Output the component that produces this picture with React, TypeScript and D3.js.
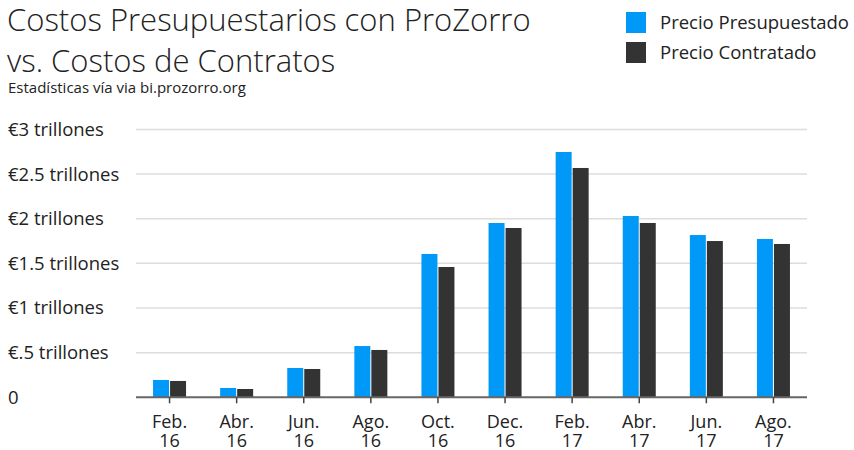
import React from "react";
import * as d3 from "d3";

const categories = ["Feb.|16", "Abr.|16", "Jun.|16", "Ago.|16", "Oct.|16", "Dec.|16", "Feb.|17", "Abr.|17", "Jun.|17", "Ago.|17"];
const presupuestado = [0.194, 0.104, 0.328, 0.574, 1.605, 1.952, 2.747, 2.03, 1.817, 1.773];
const contratado = [0.183, 0.093, 0.317, 0.53, 1.459, 1.896, 2.568, 1.952, 1.75, 1.717];
const yTicks = [0, 0.5, 1, 1.5, 2, 2.5, 3];
const yTickLabels = ["0", "€.5 trillones", "€1 trillones", "€1.5 trillones", "€2 trillones", "€2.5 trillones", "€3 trillones"];
const seriesNames = ["Precio Presupuestado", "Precio Contratado"];
const colors = ["#0099F7", "#333333"];

const W = 854, H = 450;
const FONT = "'Open Sans', sans-serif";

export default function App() {
  const x = d3.scaleBand<string>().domain(categories).range([136, 807]).padding(0);
  const y = d3.scaleLinear().domain([0, 3]).range([397.3, 129.4]);
  const inner = d3.scaleBand<number>().domain([0, 1]).range([x.bandwidth() / 2 - 16.5, x.bandwidth() / 2 + 16.5]).paddingInner(0.06);
  const series = [presupuestado, contratado];
  return (
    <svg width={W} height={H} style={{ position: "absolute", left: 0, top: 0, fontFamily: FONT }}>
      <rect width={W} height={H} fill="#fff" />
      <text x={7} y={31} fontSize={31} fontWeight={300} fill="#222">Costos Presupuestarios con ProZorro</text>
      <text x={7} y={72} fontSize={31} fontWeight={300} fill="#222">vs. Costos de Contratos</text>
      <text x={8} y={93} fontSize={15} fill="#222">Estadísticas vía via bi.prozorro.org</text>
      {seriesNames.map((n, i) => (
        <g key={n}>
          <rect x={626} y={12 + i * 30} width={20} height={21} fill={colors[i]} />
          <text x={660} y={28.5 + i * 30} fontSize={18.5} fill="#222">{n}</text>
        </g>
      ))}
      {yTicks.map((t, i) => (
        <g key={t}>
          {t > 0 && <line x1={136} x2={807} y1={y(t)} y2={y(t)} stroke="#dcdcdc" strokeWidth={1.5} />}
          <text x={8} y={y(t)} dy="0.35em" fontSize={18.5} fill="#222">{yTickLabels[i]}</text>
        </g>
      ))}
      {categories.map((c, ci) => (
        <g key={c} transform={`translate(${x(c)},0)`}>
          {series.map((s, si) => (
            <rect key={si} x={inner(si)} y={y(s[ci])} width={inner.bandwidth()} height={y(0) - y(s[ci])} fill={colors[si]} />
          ))}
        </g>
      ))}
      <line x1={136} x2={807} y1={y(0)} y2={y(0)} stroke="#666" strokeWidth={2} />
      {categories.map((c) => {
        const [a, b] = c.split("|");
        const cx = (x(c) as number) + x.bandwidth() / 2;
        return (
          <g key={c}>
            <line x1={cx} x2={cx} y1={y(0)} y2={y(0) + 6} stroke="#444" strokeWidth={1.5} />
            <text x={cx} y={428} textAnchor="middle" fontSize={18} fill="#222">{a}</text>
            <text x={cx} y={447} textAnchor="middle" fontSize={18} fill="#222">{b}</text>
          </g>
        );
      })}
    </svg>
  );
}
